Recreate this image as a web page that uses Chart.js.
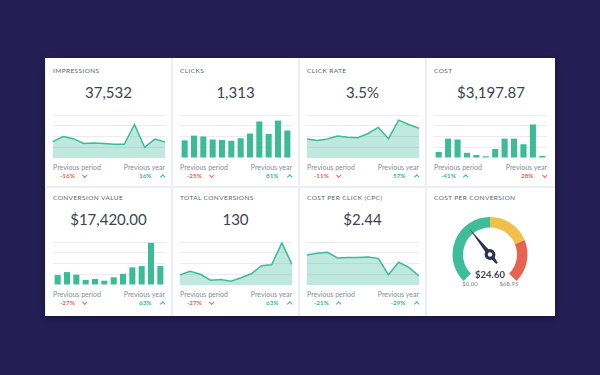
<!DOCTYPE html>
<html>
<head>
<meta charset="utf-8">
<script src="https://cdn.jsdelivr.net/npm/chart.js@4.4.1/dist/chart.umd.min.js"></script>
<style>
  html, body { margin: 0; padding: 0; }
  body { width: 600px; height: 375px; background: #241e54; position: relative; overflow: hidden; font-family: Lato, "Open Sans", sans-serif; }
  .panel { position: absolute; left: 45px; top: 58px; width: 509px; height: 258px; padding-left: 1px; background: #eceef2;
    display: grid; grid-template-columns: 125px 125px 125px 128px; grid-template-rows: 128px 128px; gap: 2px;
    box-shadow: 0 2px 8px rgba(0,0,0,.35); }
  .card { background: #fff; position: relative; --dy: 0px; }
  .card.r2 { --dy: -3px; }
  .title { position: absolute; left: 7px; top: calc(9px + var(--dy)); font-size: 6.5px; line-height: 8px; letter-spacing: .4px; color: #5a606b; white-space: nowrap; }
  .value { position: absolute; left: 0; right: 0; text-align: center; top: calc(25px + var(--dy)); font-size: 15px; line-height: 18px; color: #3d4350; }
  .chart { position: absolute; left: 7px; right: 6px; top: calc(56px + var(--dy)); height: 44px; }
  .c4 .chart, .c4 .foot { right: 8px; }
  .foot { position: absolute; left: 7px; right: 6px; top: calc(105px + var(--dy)); display: flex; justify-content: space-between; }
  .foot .lbl { font-size: 7px; line-height: 8px; color: #868b94; white-space: nowrap; }
  .foot .row { margin-top: 1px; line-height: 8px; font-size: 6.3px; font-weight: 700; white-space: nowrap; }
  .foot .l .pct { margin-left: 7px; }
  .foot .l .chev { margin-left: 8px; }
  .foot .r { text-align: right; }
  .foot .r .chev { margin-left: 9px; margin-right: 1px; }
  .red { color: #e9664f; }
  .green { color: #38b992; }
  .chev { display: inline-block; width: 2.5px; height: 2.5px; border-style: solid; border-color: currentColor; position: relative; transform: rotate(45deg); }
  .chev.down { border-width: 0 1.2px 1.2px 0; top: -1.5px; }
  .chev.up { border-width: 1.2px 0 0 1.2px; top: 0.5px; }
  .gauge { position: absolute; left: 0; top: 29px; width: 126px; height: 64px; }
  .gval { position: absolute; left: 0; width: 126px; text-align: center; top: 81px; font-size: 9.5px; line-height: 12px; font-weight: 700; color: #3a404d; }
  .gmin, .gmax { position: absolute; width: 30px; text-align: center; top: 92px; font-size: 6px; line-height: 8px; color: #7b8089; }
  .gmin { left: 28px; }
  .gmax { left: 67px; }
</style>
</head>
<body>
<div class="panel">
  <div class="card c1">
    <div class="title">IMPRESSIONS</div>
    <div class="value">37,532</div>
    <div class="chart"><canvas id="impressions"></canvas></div>
    <div class="foot">
      <div class="l"><div class="lbl">Previous period</div><div class="row red"><span class="pct">-16%</span><span class="chev down"></span></div></div>
      <div class="r"><div class="lbl">Previous year</div><div class="row green"><span class="pct">16%</span><span class="chev up"></span></div></div>
    </div>
  </div>
  <div class="card c2">
    <div class="title">CLICKS</div>
    <div class="value">1,313</div>
    <div class="chart"><canvas id="clicks"></canvas></div>
    <div class="foot">
      <div class="l"><div class="lbl">Previous period</div><div class="row red"><span class="pct">-25%</span><span class="chev down"></span></div></div>
      <div class="r"><div class="lbl">Previous year</div><div class="row green"><span class="pct">81%</span><span class="chev up"></span></div></div>
    </div>
  </div>
  <div class="card c3">
    <div class="title">CLICK RATE</div>
    <div class="value">3.5%</div>
    <div class="chart"><canvas id="clickRate"></canvas></div>
    <div class="foot">
      <div class="l"><div class="lbl">Previous period</div><div class="row red"><span class="pct">-11%</span><span class="chev down"></span></div></div>
      <div class="r"><div class="lbl">Previous year</div><div class="row green"><span class="pct">57%</span><span class="chev up"></span></div></div>
    </div>
  </div>
  <div class="card c4">
    <div class="title">COST</div>
    <div class="value">$3,197.87</div>
    <div class="chart"><canvas id="cost"></canvas></div>
    <div class="foot">
      <div class="l"><div class="lbl">Previous period</div><div class="row green"><span class="pct">-41%</span><span class="chev up"></span></div></div>
      <div class="r"><div class="lbl">Previous year</div><div class="row red"><span class="pct">28%</span><span class="chev down"></span></div></div>
    </div>
  </div>
  <div class="card c1 r2">
    <div class="title">CONVERSION VALUE</div>
    <div class="value">$17,420.00</div>
    <div class="chart"><canvas id="conversionValue"></canvas></div>
    <div class="foot">
      <div class="l"><div class="lbl">Previous period</div><div class="row red"><span class="pct">-27%</span><span class="chev down"></span></div></div>
      <div class="r"><div class="lbl">Previous year</div><div class="row green"><span class="pct">63%</span><span class="chev up"></span></div></div>
    </div>
  </div>
  <div class="card c2 r2">
    <div class="title">TOTAL CONVERSIONS</div>
    <div class="value">130</div>
    <div class="chart"><canvas id="totalConversions"></canvas></div>
    <div class="foot">
      <div class="l"><div class="lbl">Previous period</div><div class="row red"><span class="pct">-27%</span><span class="chev down"></span></div></div>
      <div class="r"><div class="lbl">Previous year</div><div class="row green"><span class="pct">63%</span><span class="chev up"></span></div></div>
    </div>
  </div>
  <div class="card c3 r2">
    <div class="title">COST PER CLICK (CPC)</div>
    <div class="value">$2.44</div>
    <div class="chart"><canvas id="costPerClick"></canvas></div>
    <div class="foot">
      <div class="l"><div class="lbl">Previous period</div><div class="row green"><span class="pct">-21%</span><span class="chev up"></span></div></div>
      <div class="r"><div class="lbl">Previous year</div><div class="row green"><span class="pct">-29%</span><span class="chev up"></span></div></div>
    </div>
  </div>
  <div class="card c4 r2">
    <div class="title">COST PER CONVERSION</div>
    <div class="gauge"><canvas id="gauge"></canvas></div>
    <div class="gval">$24.60</div>
    <div class="gmin">$0.00</div>
    <div class="gmax">$68.95</div>
  </div>
</div>
<script>
// 12 periods, values relative to the top grid line (= 100)
const periods = ["Jan", "Feb", "Mar", "Apr", "May", "Jun", "Jul", "Aug", "Sep", "Oct", "Nov", "Dec"];
const impressions = [38, 50, 45, 34, 35, 34, 32, 32, 78, 25, 44, 37];
const clicks = [41, 52, 50, 43, 42, 40, 46, 57, 85, 56, 87, 64];
const clickRate = [44, 41, 44, 51, 48, 47, 57, 71, 45, 88, 78, 69];
const cost = [14, 45, 43, 12, 7, 4, 21, 45, 45, 32, 78, 5];
const conversionValue = [23, 30, 24, 12, 14, 10, 18, 26, 41, 44, 98, 44];
const totalConversions = [24, 32, 25, 11, 13, 9, 17, 26, 45, 47, 98, 48];
const costPerClick = [70, 74, 76, 63, 64, 64, 65, 62, 24, 53, 41, 21];

// gauge
const gaugeBands = [34.5, 17.2, 17.25];
const gaugeValue = 24.6;
const gaugeMin = 0;
const gaugeMax = 68.95;

const GREEN = "#3cbb97";
const GREEN_FILL = "rgba(61, 189, 154, 0.33)";

function sparkline(id, type, values) {
  const ctx = document.getElementById(id).getContext("2d");
  const dataset = type === "line"
    ? { data: values, borderColor: GREEN, backgroundColor: GREEN_FILL, borderWidth: 1.5, fill: "origin", pointRadius: 0, tension: 0 }
    : { data: values, backgroundColor: GREEN, barPercentage: 0.65, categoryPercentage: 1 };

  return new Chart(ctx, {
    type,
    data: { labels: periods, datasets: [dataset] },
    options: {
      responsive: true,
      maintainAspectRatio: false,
      animation: false,
      layout: { padding: { top: 1 } },
      plugins: { legend: { display: false }, tooltip: { enabled: false } },
      scales: {
        x: { display: false },
        y: {
          min: 0,
          max: 100,
          ticks: { display: false, stepSize: 25 },
          grid: { color: "#ececec", drawTicks: false },
          border: { display: false }
        }
      }
    }
  });
}

sparkline("impressions", "line", impressions);
sparkline("clicks", "bar", clicks);
sparkline("clickRate", "line", clickRate);
sparkline("cost", "bar", cost);
sparkline("conversionValue", "bar", conversionValue);
sparkline("totalConversions", "line", totalConversions);
sparkline("costPerClick", "line", costPerClick);

// needle drawn from the arc geometry
const needle = {
  id: "needle",
  afterDatasetsDraw(chart) {
    const arcs = chart.getDatasetMeta(0).data;
    const first = arcs[0];
    const last = arcs[arcs.length - 1];
    const cx = first.x, cy = first.y, r = first.outerRadius;
    const a = first.startAngle + (gaugeValue - gaugeMin) / (gaugeMax - gaugeMin) * (last.endAngle - first.startAngle);
    const dx = Math.cos(a), dy = Math.sin(a);
    const nx = -dy, ny = dx;
    const c = chart.ctx;
    c.save();
    c.fillStyle = "#2e3350";
    c.beginPath();
    c.moveTo(cx + dx * r * 0.88, cy + dy * r * 0.88);
    c.lineTo(cx + nx * 2.4, cy + ny * 2.4);
    c.lineTo(cx - dx * r * 0.3 + nx * 1, cy - dy * r * 0.3 + ny * 1);
    c.lineTo(cx - dx * r * 0.3 - nx * 1, cy - dy * r * 0.3 - ny * 1);
    c.lineTo(cx - nx * 2.4, cy - ny * 2.4);
    c.closePath();
    c.fill();
    c.beginPath();
    c.arc(cx, cy, 5.4, 0, Math.PI * 2);
    c.fill();
    c.fillStyle = "#fff";
    c.beginPath();
    c.arc(cx, cy, 2.2, 0, Math.PI * 2);
    c.fill();
    c.restore();
  }
};

new Chart(document.getElementById("gauge").getContext("2d"), {
  type: "doughnut",
  data: {
    labels: ["Low", "Medium", "High"],
    datasets: [{ data: gaugeBands, backgroundColor: ["#3dbd9a", "#f0c04a", "#e8634f"], borderWidth: 0 }]
  },
  options: {
    responsive: true,
    maintainAspectRatio: false,
    animation: false,
    rotation: -135,
    circumference: 270,
    cutout: "72%",
    plugins: { legend: { display: false }, tooltip: { enabled: false } }
  },
  plugins: [needle]
});
</script>
</body>
</html>
